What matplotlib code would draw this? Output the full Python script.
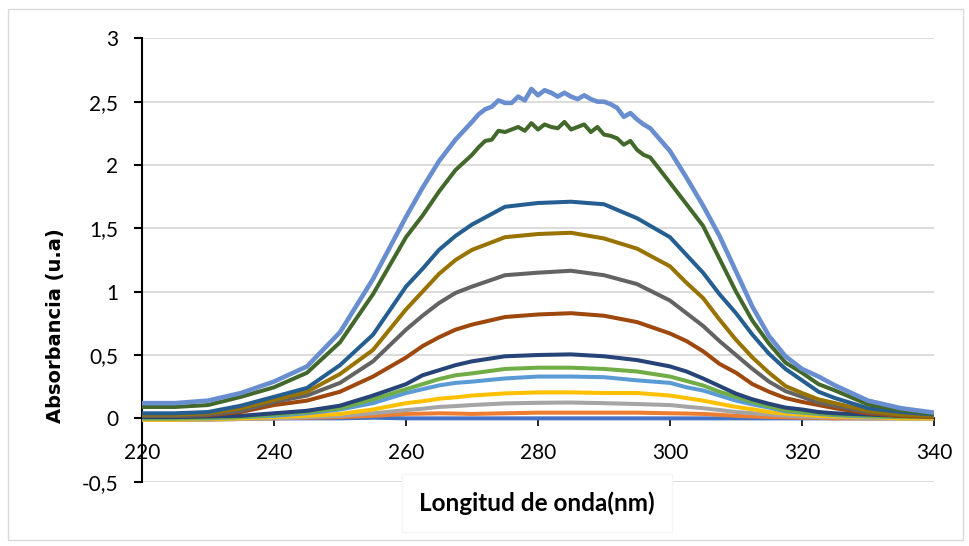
import matplotlib
matplotlib.use('Agg')
import matplotlib.pyplot as plt
from matplotlib.patches import Rectangle

# wavelengths (nm) for the smooth series
wl = [220, 225, 230, 235, 240, 245, 250, 255, 260, 262.5, 265, 267.5, 270, 275, 280,
      285, 290, 295, 300, 302.5, 305, 307.5, 310, 312.5, 315, 317.5, 320, 322.5,
      325, 330, 335, 340]

# finer sampling around the peak for the two noisy top spectra
wl_top = [220, 225, 230, 235, 240, 245, 250, 255, 260, 262.5, 265, 267.5,
          270, 271, 272, 273, 274, 275, 276, 277, 278, 279, 280, 281, 282, 283,
          284, 285, 286, 287, 288, 289, 290, 291, 292, 293, 294, 295, 296, 297,
          300, 302.5, 305, 307.5, 310, 312.5, 315, 317.5, 320, 322.5, 325, 330, 335, 340]

s1 = [0.0, -0.005, 0.0, 0.0, 0.0, 0.0, 0.0, 0.005, 0.0, 0.0, 0.0, 0.0, 0.0, 0.0, 0.0,
      0.0, 0.0, 0.0, 0.0, 0.0, 0.0, 0.0, 0.0, 0.0, 0.0, 0.0, 0.0, 0.0,
      0.0, 0.0, 0.0, 0.0]
s2 = [-0.01, -0.01, -0.01, -0.005, 0.0, 0.005, 0.01, 0.02, 0.035, 0.037, 0.04, 0.038, 0.035, 0.04, 0.045,
      0.045, 0.045, 0.045, 0.04, 0.038, 0.035, 0.028, 0.02, 0.015, 0.01, 0.008, 0.005, 0.004,
      0.0, 0.0, 0.0, 0.0]
s3 = [-0.01, -0.01, -0.01, -0.005, 0.0, 0.01, 0.02, 0.04, 0.065, 0.076, 0.09, 0.097, 0.105, 0.118, 0.123,
      0.125, 0.12, 0.113, 0.105, 0.092, 0.08, 0.066, 0.05, 0.041, 0.03, 0.022, 0.015, 0.01,
      0.01, 0.0, 0.0, 0.0]
s4 = [-0.01, -0.01, -0.005, 0.0, 0.01, 0.02, 0.035, 0.07, 0.12, 0.135, 0.155, 0.166, 0.18, 0.197, 0.205,
      0.205, 0.2, 0.2, 0.18, 0.16, 0.14, 0.115, 0.09, 0.072, 0.05, 0.038, 0.03, 0.02,
      0.015, 0.01, 0.0, 0.0]
s5 = [0.0, 0.0, 0.0, 0.01, 0.02, 0.04, 0.07, 0.12, 0.2, 0.23, 0.26, 0.28, 0.29, 0.315, 0.33,
      0.33, 0.325, 0.3, 0.28, 0.245, 0.22, 0.18, 0.14, 0.11, 0.085, 0.055, 0.045, 0.035,
      0.025, 0.015, 0.01, 0.01]
s6 = [0.0, 0.0, 0.005, 0.01, 0.03, 0.05, 0.08, 0.15, 0.23, 0.27, 0.31, 0.34, 0.355, 0.39, 0.4,
      0.4, 0.39, 0.37, 0.33, 0.295, 0.26, 0.21, 0.17, 0.13, 0.095, 0.065, 0.05, 0.04,
      0.03, 0.02, 0.01, 0.01]
s7 = [0.01, 0.01, 0.015, 0.02, 0.04, 0.06, 0.1, 0.18, 0.27, 0.34, 0.38, 0.42, 0.45, 0.49, 0.5,
      0.505, 0.49, 0.46, 0.41, 0.37, 0.315, 0.255, 0.195, 0.15, 0.115, 0.085, 0.07, 0.05,
      0.04, 0.03, 0.02, 0.02]
s8 = [0.02, 0.02, 0.025, 0.05, 0.105, 0.14, 0.21, 0.33, 0.48, 0.57, 0.64, 0.7, 0.74, 0.8, 0.82,
      0.83, 0.81, 0.76, 0.67, 0.61, 0.53, 0.43, 0.36, 0.27, 0.21, 0.16, 0.13, 0.105,
      0.08, 0.04, 0.02, 0.01]
s9 = [0.02, 0.02, 0.03, 0.06, 0.13, 0.18, 0.28, 0.45, 0.7, 0.81, 0.91, 0.99, 1.04, 1.13, 1.15,
      1.165, 1.13, 1.06, 0.93, 0.83, 0.73, 0.61, 0.5, 0.39, 0.29, 0.215, 0.17, 0.125,
      0.1, 0.05, 0.03, 0.02]
s10 = [0.03, 0.03, 0.04, 0.08, 0.145, 0.21, 0.35, 0.54, 0.86, 1.0, 1.14, 1.25, 1.33, 1.43, 1.455,
       1.465, 1.42, 1.34, 1.2, 1.07, 0.95, 0.78, 0.62, 0.48, 0.36, 0.255, 0.2, 0.15,
       0.12, 0.06, 0.03, 0.02]
s11 = [0.04, 0.04, 0.05, 0.1, 0.17, 0.24, 0.42, 0.66, 1.04, 1.18, 1.33, 1.44, 1.53, 1.67, 1.7,
       1.71, 1.69, 1.58, 1.43, 1.29, 1.15, 0.98, 0.83, 0.66, 0.51, 0.39, 0.3, 0.21,
       0.16, 0.08, 0.05, 0.03]
s12 = [0.09, 0.09, 0.105, 0.17, 0.245, 0.36, 0.6, 0.98, 1.43, 1.6, 1.79, 1.96,
       2.08, 2.14, 2.19, 2.2, 2.27, 2.26, 2.28, 2.3, 2.27, 2.33, 2.28, 2.32, 2.3, 2.29,
       2.34, 2.28, 2.3, 2.32, 2.26, 2.3, 2.24, 2.23, 2.21, 2.16, 2.19, 2.12, 2.08, 2.06,
       1.86, 1.69, 1.52, 1.26, 1.0, 0.77, 0.59, 0.44, 0.36, 0.27, 0.22, 0.11, 0.065, 0.035]
s13 = [0.12, 0.12, 0.14, 0.2, 0.29, 0.41, 0.68, 1.1, 1.59, 1.82, 2.03, 2.2,
       2.34, 2.4, 2.44, 2.46, 2.51, 2.49, 2.49, 2.54, 2.51, 2.6, 2.55, 2.59, 2.57, 2.54,
       2.57, 2.54, 2.52, 2.55, 2.52, 2.5, 2.5, 2.48, 2.45, 2.38, 2.41, 2.36, 2.32, 2.29,
       2.11, 1.9, 1.68, 1.44, 1.16, 0.88, 0.65, 0.49, 0.39, 0.33, 0.26, 0.14, 0.08, 0.045]

colors = ['#4472C4', '#ED7D31', '#A5A5A5', '#FFC000', '#5B9BD5', '#70AD47', '#264478',
          '#9E480E', '#636363', '#997300', '#255E91', '#43682B', '#698ED0']

x_ticks = [220, 240, 260, 280, 300, 320, 340]
y_ticks = [-0.5, 0, 0.5, 1, 1.5, 2, 2.5, 3]
y_ticklabels = ['-0,5', '0', '0,5', '1', '1,5', '2', '2,5', '3']

series = [(wl, s1), (wl, s2), (wl, s3), (wl, s4), (wl, s5), (wl, s6), (wl, s7),
          (wl, s8), (wl, s9), (wl, s10), (wl, s11), (wl_top, s12), (wl_top, s13)]

fig = plt.figure(figsize=(9.7, 5.46), dpi=100)
ax = fig.add_axes([142 / 970, 1 - 481.7 / 546, 792 / 970, 443.4 / 546])

for i, ((x, y), c) in enumerate(zip(series, colors)):
    lw = 3.3 if i == len(series) - 1 else 2.9
    ax.plot(x, y, color=c, lw=lw, zorder=3, solid_capstyle='round', solid_joinstyle='round')

ax.set_xlim(220, 340)
ax.set_ylim(-0.5, 3)
ax.set_xticks(x_ticks)
ax.set_yticks(y_ticks)
ax.set_yticklabels(y_ticklabels)

for side in ['top', 'right']:
    ax.spines[side].set_visible(False)
ax.spines['bottom'].set_position(('data', 0))
ax.spines['bottom'].set_linewidth(1.2)
ax.spines['left'].set_linewidth(1.5)

ax.yaxis.grid(True, color='#d9d9d9', lw=1.3)
ax.set_axisbelow(True)

ax.tick_params(axis='y', direction='out', length=6, width=1.5, pad=11)
ax.tick_params(axis='x', direction='out', length=6, width=1.2, pad=12)
for lab in ax.get_xticklabels() + ax.get_yticklabels():
    lab.set_fontfamily('Lato')
    lab.set_fontsize(15)

fig.text(56 / 970, 1 - 326 / 546, 'Absorbancia (u.a)', rotation=90, ha='center', va='center',
         fontsize=14, fontweight='bold', family='DejaVu Sans')
fig.text(537 / 970, 1 - 503 / 546, 'Longitud de onda(nm)', ha='center', va='center',
         fontsize=17.5, fontweight='bold', family='Lato',
         bbox=dict(boxstyle='square,pad=0.7', facecolor='white', edgecolor='#f5f5f5', lw=1))

fig.patches.append(Rectangle((8 / 970, 1 - 540 / 546), 955 / 970, 531 / 546,
                             transform=fig.transFigure, fill=False,
                             edgecolor='#d9d9d9', lw=1))

plt.savefig('out.png', dpi=100)
